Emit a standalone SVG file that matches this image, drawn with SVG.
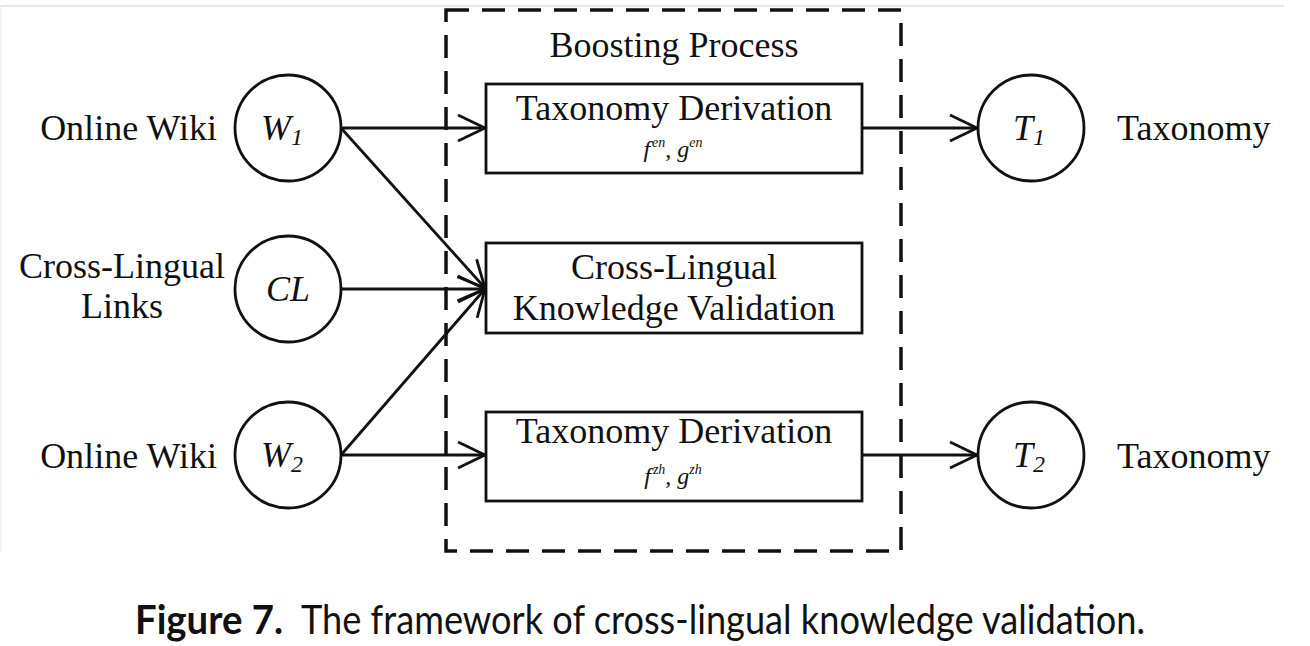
<svg xmlns="http://www.w3.org/2000/svg" width="1310" height="646" viewBox="0 0 1310 646">
<style>
.serif{font-family:"Liberation Serif","Times New Roman",serif;font-size:36px;fill:#111;}
.it{font-style:italic;}
.node{fill:#fff;stroke:#111;stroke-width:2.8;}
.conn{stroke:#111;stroke-width:2.8;fill:none;marker-end:url(#arr);}
.cap{font-family:Lato,"Open Sans",sans-serif;font-size:40px;fill:#111;}
.sub{font-family:"Liberation Serif","Times New Roman",serif;font-style:italic;font-size:24px;fill:#111;}
.sup{font-size:14px;}
</style>
<defs>
<marker id="arr" markerUnits="userSpaceOnUse" markerWidth="40" markerHeight="40" viewBox="-34 -20 40 40" refX="0" refY="0" orient="auto">
<path d="M-27,-13 L0,0 L-27,13" fill="none" stroke="#111" stroke-width="2.8"/>
</marker>
</defs>
<rect width="1310" height="646" fill="#fff"/>
<line x1="0" y1="6" x2="1284" y2="6" stroke="#e6e6e6" stroke-width="2"/>
<line x1="1" y1="6" x2="1" y2="552" stroke="#efefef" stroke-width="1.5"/>

<g id="boosting">
<rect x="446" y="10" width="455" height="541" fill="none" stroke="#111" stroke-width="3.5" stroke-dasharray="23 13"/>
<text class="serif" x="674" y="57" text-anchor="middle">Boosting Process</text>
</g>

<g id="connectors">
<line class="conn" x1="341" y1="128" x2="485" y2="128"/>
<line class="conn" x1="341" y1="128" x2="485" y2="288"/>
<line class="conn" x1="341" y1="289" x2="485" y2="289"/>
<line class="conn" x1="341" y1="455" x2="485" y2="289"/>
<line class="conn" x1="341" y1="455" x2="485" y2="455"/>
<line class="conn" x1="862" y1="128" x2="977" y2="128"/>
<line class="conn" x1="862" y1="455" x2="977" y2="455"/>
</g>

<g id="W1">
<circle class="node" cx="288" cy="128" r="53"/>
<text class="serif it" x="282" y="140" text-anchor="middle">W<tspan font-size="24" dy="5">1</tspan></text>
<text class="serif" x="217" y="140" text-anchor="end">Online Wiki</text>
</g>
<g id="CL">
<circle class="node" cx="288" cy="289" r="53"/>
<text class="serif it" x="288" y="301" text-anchor="middle">CL</text>
<text class="serif" x="122" y="278" text-anchor="middle">Cross-Lingual</text>
<text class="serif" x="122" y="318" text-anchor="middle">Links</text>
</g>
<g id="W2">
<circle class="node" cx="288" cy="455" r="53"/>
<text class="serif it" x="282" y="467" text-anchor="middle">W<tspan font-size="24" dy="5">2</tspan></text>
<text class="serif" x="217" y="468" text-anchor="end">Online Wiki</text>
</g>

<g id="TD1">
<rect class="node" x="486" y="84" width="376" height="89"/>
<text class="serif" x="674" y="120" text-anchor="middle">Taxonomy Derivation</text>
<text class="sub" x="673" y="157" text-anchor="middle">f<tspan class="sup" dx="2" dy="-10">en</tspan><tspan dy="10">, g</tspan><tspan class="sup" dy="-10">en</tspan></text>
</g>
<g id="CLKV">
<rect class="node" x="486" y="243" width="376" height="90"/>
<text class="serif" x="674" y="279" text-anchor="middle">Cross-Lingual</text>
<text class="serif" x="674" y="320" text-anchor="middle">Knowledge Validation</text>
</g>
<g id="TD2">
<rect class="node" x="486" y="412" width="376" height="89"/>
<text class="serif" x="674" y="443" text-anchor="middle">Taxonomy Derivation</text>
<text class="sub" x="673" y="484" text-anchor="middle">f<tspan class="sup" dx="2" dy="-10">zh</tspan><tspan dy="10">, g</tspan><tspan class="sup" dy="-10">zh</tspan></text>
</g>

<g id="T1">
<circle class="node" cx="1031" cy="128" r="53"/>
<text class="serif it" x="1029" y="140" text-anchor="middle">T<tspan font-size="24" dy="5">1</tspan></text>
<text class="serif" x="1117" y="140">Taxonomy</text>
</g>
<g id="T2">
<circle class="node" cx="1031" cy="455" r="53"/>
<text class="serif it" x="1029" y="467" text-anchor="middle">T<tspan font-size="24" dy="5">2</tspan></text>
<text class="serif" x="1117" y="468">Taxonomy</text>
</g>

<g id="caption">
<text class="cap" x="135" y="634" font-weight="bold" textLength="148" lengthAdjust="spacingAndGlyphs">Figure 7.</text>
<text class="cap" x="301" y="634" textLength="844" lengthAdjust="spacingAndGlyphs">The framework of cross-lingual knowledge validation.</text>
</g>
</svg>
